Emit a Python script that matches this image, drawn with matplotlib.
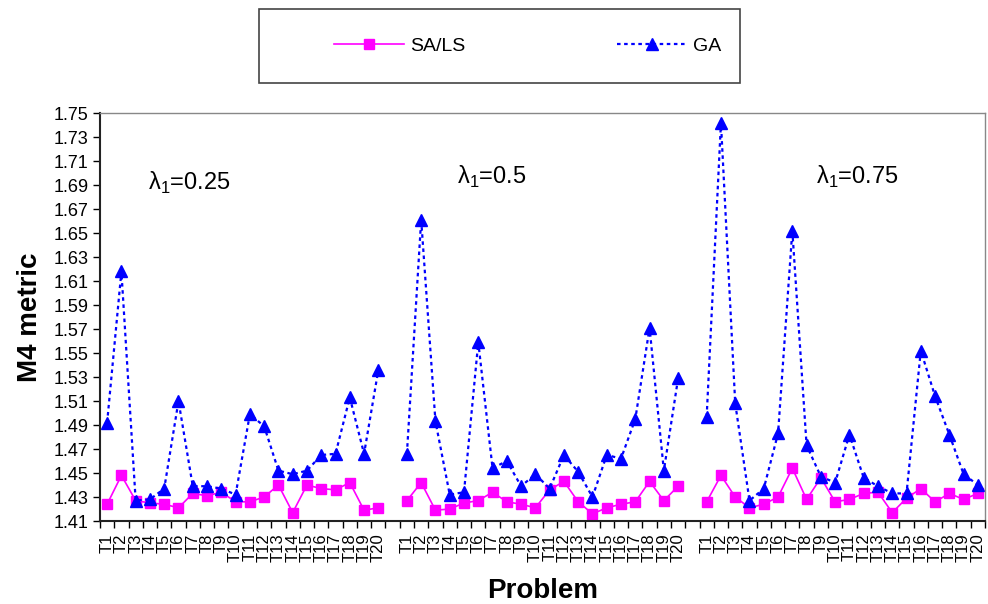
import matplotlib
matplotlib.use("Agg")
import matplotlib.pyplot as plt
from matplotlib.patches import Rectangle
import numpy as np

plt.rcParams['font.family'] = ['Liberation Sans', 'DejaVu Sans']
plt.rcParams['mathtext.fontset'] = 'custom'
plt.rcParams['mathtext.rm'] = 'Liberation Sans'

problems = [f"T{i}" for i in range(1, 21)]
lambda_labels = ["λ$_\\mathregular{1}$=0.25", "λ$_\\mathregular{1}$=0.5", "λ$_\\mathregular{1}$=0.75"]

sals_025 = [1.424, 1.448, 1.427, 1.425, 1.424, 1.421, 1.433, 1.431, 1.434, 1.426,
            1.426, 1.430, 1.440, 1.417, 1.440, 1.437, 1.436, 1.442, 1.419, 1.421]
ga_025 = [1.492, 1.618, 1.427, 1.428, 1.437, 1.510, 1.439, 1.439, 1.437, 1.432,
          1.499, 1.489, 1.452, 1.449, 1.452, 1.465, 1.466, 1.513, 1.466, 1.536]
sals_05 = [1.427, 1.442, 1.419, 1.420, 1.425, 1.427, 1.434, 1.426, 1.424, 1.421,
           1.436, 1.443, 1.426, 1.416, 1.421, 1.424, 1.426, 1.443, 1.427, 1.439]
ga_05 = [1.466, 1.661, 1.493, 1.432, 1.434, 1.559, 1.454, 1.460, 1.439, 1.449,
         1.437, 1.465, 1.451, 1.430, 1.465, 1.462, 1.495, 1.571, 1.452, 1.529]
sals_075 = [1.426, 1.448, 1.430, 1.421, 1.424, 1.430, 1.454, 1.428, 1.446, 1.426,
            1.428, 1.433, 1.434, 1.417, 1.429, 1.437, 1.426, 1.433, 1.428, 1.433]
ga_075 = [1.497, 1.742, 1.508, 1.427, 1.437, 1.483, 1.652, 1.473, 1.447, 1.442,
          1.482, 1.446, 1.439, 1.433, 1.433, 1.552, 1.514, 1.482, 1.449, 1.440]

sals_groups = [sals_025, sals_05, sals_075]
ga_groups = [ga_025, ga_05, ga_075]

fig = plt.figure(figsize=(9.88, 6.04), dpi=100)
ax = fig.add_axes([0.1012, 0.1374, 0.8958, 0.6755])

pink = '#FF00FF'
blue = '#0000FF'
n = len(problems)
tick_pos = []
tick_lab = []
label_pos = [(5.74, 1.692), (26.97, 1.6966), (52.55, 1.6966)]
for g in range(3):
    x = np.arange(n) + g * (n + 1)
    l1, = ax.plot(x, sals_groups[g], color=pink, lw=1.2, marker='s', markersize=7,
                  markeredgecolor=pink, markerfacecolor=pink, label='SA/LS' if g == 0 else None)
    l2, = ax.plot(x, ga_groups[g], color=blue, lw=1.6, linestyle=(0, (1.6, 1.6)), marker='^',
                  markersize=8, markeredgecolor=blue, markerfacecolor=blue,
                  label='GA' if g == 0 else None)
    if g == 0:
        h1, h2 = l1, l2
    tick_pos.extend(list(x))
    tick_lab.extend(problems)
    ax.text(label_pos[g][0], label_pos[g][1], lambda_labels[g], fontsize=17,
            ha='center', va='center')

ax.set_xlim(-0.5, 3 * n + 2 - 0.5)
ax.set_ylim(1.41, 1.75)
ax.set_yticks(np.round(np.arange(1.41, 1.7501, 0.02), 2))
ax.set_yticklabels([f"{v:.2f}" for v in np.arange(1.41, 1.7501, 0.02)], fontsize=13)
ax.set_xticks(tick_pos)
ax.set_xticklabels(tick_lab, rotation=90, fontsize=12)
ax.set_xticks(np.arange(-0.5, 3 * n + 2, 1.0), minor=True)
ax.tick_params(axis='x', which='major', length=0, pad=9)
ax.tick_params(axis='x', which='minor', length=5, width=1, direction='out')
ax.tick_params(axis='y', which='major', length=5, width=1, direction='out', pad=3)

for s in ['left', 'bottom']:
    ax.spines[s].set_color('#222222')
    ax.spines[s].set_linewidth(1.5)
for s in ['top', 'right']:
    ax.spines[s].set_color('#888888')
    ax.spines[s].set_linewidth(1.0)

ax.set_ylabel('M4 metric', fontsize=20, fontweight='bold', labelpad=8)
ax.set_xlabel('Problem', fontsize=20, fontweight='bold', labelpad=11)

fig.patches.append(Rectangle((259 / 988, 1 - 83 / 604), (740 - 259) / 988, 74 / 604,
                             transform=fig.transFigure, fill=False, edgecolor='#444444',
                             linewidth=1.2))
fig.legend([h1, h2], ['SA/LS', 'GA'], loc='center', bbox_to_anchor=(0.534, 1 - 46 / 604),
           ncol=2, frameon=False, fontsize=14, handlelength=3.6, columnspacing=7.8,
           handletextpad=0.3)

fig.savefig('out.png', dpi=100)
